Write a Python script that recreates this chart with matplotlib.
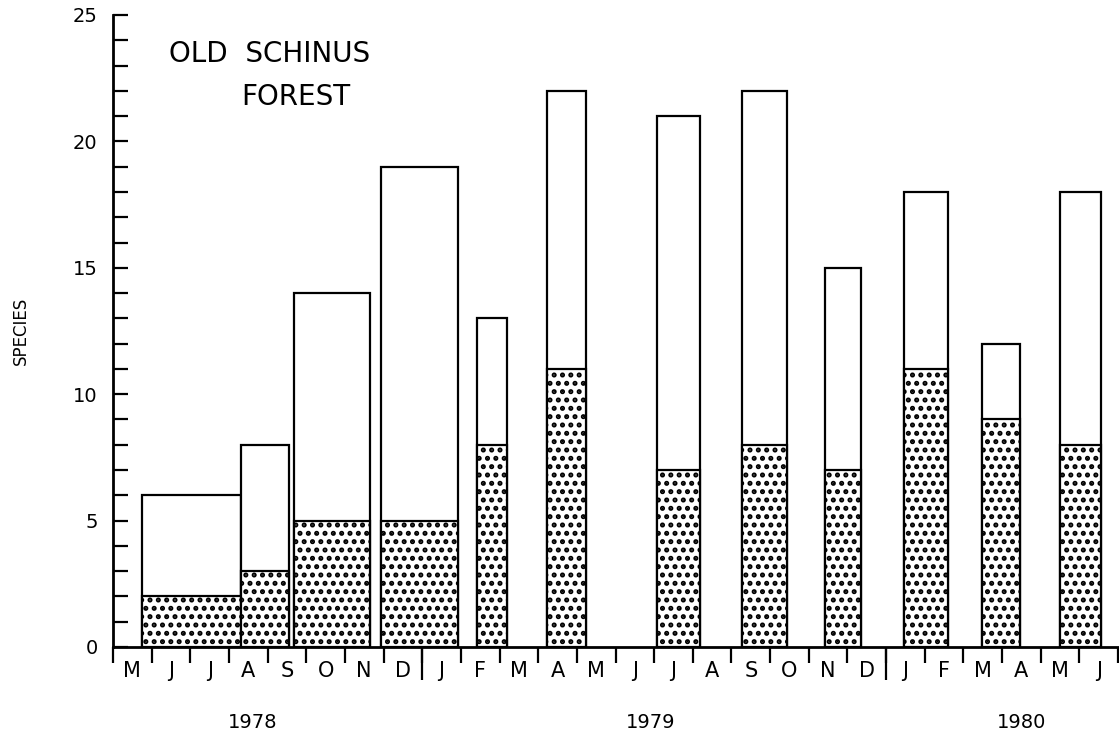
import matplotlib
matplotlib.use("Agg")
import matplotlib.pyplot as plt
from matplotlib.ticker import MultipleLocator, FixedLocator, NullFormatter

# Data (months counted from the start of May 1978)
months = ["M", "J", "J", "A", "S", "O", "N", "D", "J", "F", "M", "A", "M",
          "J", "J", "A", "S", "O", "N", "D", "J", "F", "M", "A", "M", "J"]
first_month = 5  # May
years = ["1978", "1979", "1980"]
period_start = [0.75, 3.31, 4.68, 6.93, 9.42, 11.23, 14.08, 16.27, 18.42, 20.47, 22.48, 24.5]
period_end = [3.31, 4.55, 6.65, 8.93, 10.19, 12.24, 15.19, 17.44, 19.35, 21.6, 23.47, 25.56]
total_species = [6, 8, 14, 19, 13, 22, 21, 22, 15, 18, 12, 18]
shaded_species = [2, 3, 5, 5, 8, 11, 7, 8, 7, 11, 9, 8]

plt.rcParams["font.family"] = "DejaVu Sans"
plt.rcParams["hatch.linewidth"] = 2.4
plt.rcParams["hatch.color"] = "black"

fig = plt.figure(figsize=(11.19, 7.39), dpi=100)
ax = fig.add_axes([113 / 1119, 1 - 647 / 739, 1005 / 1119, 632 / 739])

widths = [e - s for s, e in zip(period_start, period_end)]
ax.bar(period_start, total_species, width=widths, align="edge",
       facecolor="white", edgecolor="black", linewidth=1.6, zorder=2)
ax.bar(period_start, shaded_species, width=widths, align="edge",
       facecolor="white", edgecolor="black", linewidth=1.6, hatch="..", zorder=3)

ax.set_xlim(0, len(months))
ax.set_ylim(0, 25)

for side in ["top", "right"]:
    ax.spines[side].set_visible(False)
for side in ["left", "bottom"]:
    ax.spines[side].set_linewidth(2)
ax.spines["left"].set_zorder(5)
ax.spines["bottom"].set_zorder(5)

# y axis: ticks pointing inward
ax.yaxis.set_major_locator(MultipleLocator(5))
ax.yaxis.set_minor_locator(MultipleLocator(1))
ax.tick_params(axis="y", which="both", direction="in", length=11, width=1.6,
               labelsize=14, pad=11)
ax.set_ylabel("SPECIES", fontsize=12)
ax.yaxis.set_label_coords(-0.083, 0.5)

# x axis: month boundaries as ticks, month letters centred between them
ax.xaxis.set_major_locator(FixedLocator(range(len(months) + 1)))
ax.xaxis.set_major_formatter(NullFormatter())
ax.xaxis.set_minor_locator(FixedLocator([i + 0.5 for i in range(len(months))]))
ax.set_xticklabels(months, minor=True)
ax.tick_params(axis="x", which="major", direction="out", length=11.5, width=1.6)
ax.tick_params(axis="x", which="minor", length=0, labelsize=15, pad=10)

# longer ticks at the turn of each year
year_breaks = [i for i in range(len(months)) if (first_month - 1 + i) % 12 == 0]
sec = ax.secondary_xaxis("bottom")
sec.set_xticks(year_breaks)
sec.set_xticklabels([])
sec.tick_params(axis="x", direction="out", length=24, width=1.6)
sec.spines["bottom"].set_visible(False)

year_label_x = [3.6, 13.9, 23.5]
for x, yr in zip(year_label_x, years):
    ax.text(x, -0.12, yr, transform=ax.get_xaxis_transform(),
            ha="center", va="center", fontsize=14)

fig.text(270 / 1119, 1 - 54 / 739, "OLD  SCHINUS", ha="center", va="center", fontsize=20)
fig.text(296 / 1119, 1 - 97 / 739, "FOREST", ha="center", va="center", fontsize=20)

fig.savefig("out.png", dpi=100)
